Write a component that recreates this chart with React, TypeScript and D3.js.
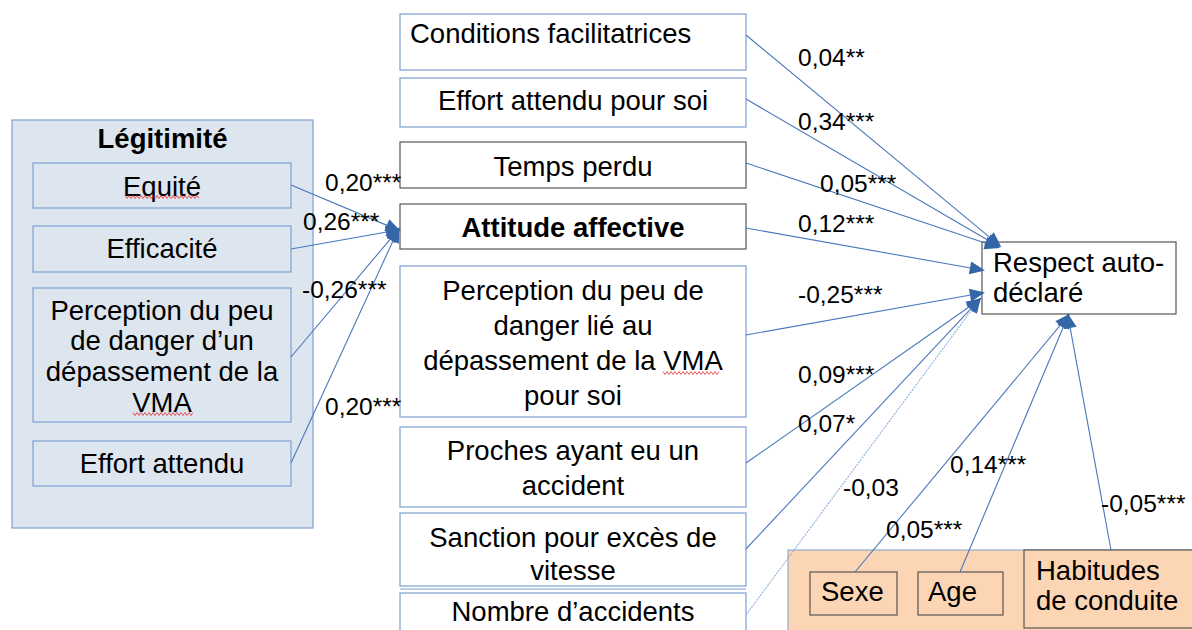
import React from "react";
import * as d3 from "d3";

// ---------- DATA ----------
const legitTitle = "Légitimité";
const legitItems = [
  ["Equité"],
  ["Efficacité"],
  ["Perception du peu", "de danger d’un", "dépassement de la", "VMA"],
  ["Effort attendu"],
];
const legitCoefs = ["0,20***", "0,26***", "-0,26***", "0,20***"];

const predictorItems = [
  ["Conditions facilitatrices"],
  ["Effort attendu pour soi"],
  ["Temps perdu"],
  ["Attitude affective"],
  ["Perception du peu de", "danger lié au", "dépassement de la VMA", "pour soi"],
  ["Proches ayant eu un", "accident"],
  ["Sanction pour excès de", "vitesse"],
  ["Nombre d’accidents"],
];
const predictorCoefs = ["0,04**", "0,34***", "0,05***", "0,12***", "-0,25***", "0,09***", "0,07*", "-0,03"];

const controlItems = [["Sexe"], ["Age"], ["Habitudes", "de conduite"]];
const controlCoefs = ["0,05***", "0,14***", "-0,05***"];

const outcomeLabel = ["Respect auto-", "déclaré"];

// ---------- LAYOUT ----------
const W = 1192, H = 630;
const BLUE_LINE = "#4a78bb";
const BOX_BLUE = "#7d9fd1";
const BOX_DARK = "#555";
const HEAD = "#3566a8";
const FONT = "'Liberation Sans', Arial, sans-serif";

const legitBox = { x: 12, y: 120, w: 301, h: 408 };
const legitInner = [
  { y: 163, h: 45, baselines: [196] },
  { y: 226, h: 46, baselines: [258] },
  { y: 288, h: 134, baselines: [320, 350, 381, 412] },
  { y: 441, h: 45, baselines: [473] },
];
const legitX = 33, legitW = 258;
const legitAnchorsY = [185, 249, 357, 463];
const legitTip = [398, 230];
const legitLabelPos = [[325, 191], [303, 230], [302, 298], [325, 415]];

const predX = 400, predW = 346;
const predBoxes = [
  { y: 14, h: 56, baselines: [43], align: "start", stroke: BOX_BLUE, bold: false },
  { y: 78, h: 49, baselines: [110], align: "middle", stroke: BOX_BLUE, bold: false },
  { y: 142, h: 46, baselines: [176], align: "middle", stroke: BOX_DARK, bold: false },
  { y: 204, h: 45, baselines: [237], align: "middle", stroke: BOX_DARK, bold: true },
  { y: 266, h: 151, baselines: [300, 335, 370, 405], align: "middle", stroke: BOX_BLUE, bold: false },
  { y: 427, h: 80, baselines: [460, 495], align: "middle", stroke: BOX_BLUE, bold: false },
  { y: 513, h: 73, baselines: [547, 580], align: "middle", stroke: BOX_BLUE, bold: false },
  { y: 593, h: 60, baselines: [621], align: "middle", stroke: BOX_BLUE, bold: false },
];
const predAnchorsY = [35, 99, 163, 228, 335, 463, 549, 615];
const predTips = [[999, 245], [998, 246], [997, 247], [982, 270], [982, 293], [979, 300], [979, 300], [979, 300]];
const predLabelPos = [[798, 66], [798, 130], [820, 192], [798, 232], [798, 303], [798, 383], [798, 432], [843, 496]];

const outBox = { x: 982, y: 242, w: 194, h: 72 };
const outText = { x: 993, baselines: [272, 302] };

const ctrlPanel = { x: 788, y: 550, w: 420, h: 100 };
const ctrlBoxes = [
  { x: 810, y: 572, w: 87, h: 43, tx: 821, baselines: [601] },
  { x: 918, y: 572, w: 85, h: 43, tx: 928, baselines: [601] },
  { x: 1024, y: 550, w: 190, h: 78, tx: 1036, baselines: [580, 610] },
];
const ctrlAnchors = [[855, 572], [960, 572], [1111, 550]];
const ctrlTip = [1068, 316];
const ctrlLabelPos = [[886, 538], [950, 473], [1101, 512]];

const spellMarks = [[125, 200, 197], [133, 193, 414], [663, 720, 373]];

const line = d3.line();

function wavy(x0: number, x1: number, y: number) {
  const pts: [number, number][] = [];
  for (let x = x0, i = 0; x <= x1; x += 2, i++) pts.push([x, y + (i % 2 ? 1.5 : -1.5)]);
  return line(pts) || "";
}

function shorten(a: number[], b: number[], d: number) {
  const dx = b[0] - a[0], dy = b[1] - a[1];
  const L = Math.hypot(dx, dy);
  return [b[0] - (dx / L) * d, b[1] - (dy / L) * d];
}

function Arrow({ from, to, dotted }: { from: number[]; to: number[]; dotted?: boolean }) {
  const end = shorten(from, to, 10);
  return (
    <path
      d={line([from as [number, number], end as [number, number]]) || ""}
      stroke={dotted ? "#8fb0dd" : BLUE_LINE}
      strokeWidth={1.1}
      strokeDasharray={dotted ? "2,1" : undefined}
      fill="none"
      markerEnd="url(#head)"
    />
  );
}

export default function App() {
  const fs = 27.5;
  const lab = 24.5;
  return (
    <div style={{ position: "fixed", left: 0, top: 0 }}>
      <svg width={W} height={H} style={{ display: "block", background: "#fff" }} fontFamily={FONT}>
        <defs>
          <marker id="head" viewBox="0 0 14 12" refX="2" refY="6" markerWidth="16" markerHeight="13" markerUnits="userSpaceOnUse" orient="auto">
            <path d="M0,0 L14,6 L0,12 Z" fill={HEAD} />
          </marker>
        </defs>

        {/* Légitimité panel */}
        <rect x={legitBox.x} y={legitBox.y} width={legitBox.w} height={legitBox.h} fill="#dde5ef" stroke={BOX_BLUE} strokeWidth={1.2} />
        <text x={legitBox.x + legitBox.w / 2} y={148} textAnchor="middle" fontWeight="bold" fontSize={fs}>{legitTitle}</text>
        {legitItems.map((lines, i) => (
          <g key={"l" + i}>
            <rect x={legitX} y={legitInner[i].y} width={legitW} height={legitInner[i].h} fill="#dde5ef" stroke={BOX_BLUE} strokeWidth={1.2} />
            {lines.map((t, j) => (
              <text key={j} x={legitX + legitW / 2} y={legitInner[i].baselines[j]} textAnchor="middle" fontSize={fs}>{t}</text>
            ))}
          </g>
        ))}

        {/* Orange control panel */}
        <rect x={ctrlPanel.x} y={ctrlPanel.y} width={ctrlPanel.w} height={ctrlPanel.h} fill="#fcd6b4" stroke={BOX_BLUE} strokeWidth={1} />
        {controlItems.map((lines, i) => (
          <g key={"c" + i}>
            <rect x={ctrlBoxes[i].x} y={ctrlBoxes[i].y} width={ctrlBoxes[i].w} height={ctrlBoxes[i].h} fill="#fcd6b4" stroke={BOX_DARK} strokeWidth={1.2} />
            {lines.map((t, j) => (
              <text key={j} x={ctrlBoxes[i].tx} y={ctrlBoxes[i].baselines[j]} fontSize={fs}>{t}</text>
            ))}
          </g>
        ))}

        {/* Predictor boxes */}
        {predictorItems.map((lines, i) => {
          const b = predBoxes[i];
          return (
            <g key={"p" + i}>
              <rect x={predX} y={b.y} width={predW} height={b.h} fill="#fff" stroke={b.stroke} strokeWidth={1.2} />
              {lines.map((t, j) => (
                <text key={j} x={b.align === "start" ? predX + 10 : predX + predW / 2} y={b.baselines[j]}
                  textAnchor={b.align} fontSize={fs} fontWeight={b.bold ? "bold" : "normal"}>{t}</text>
              ))}
            </g>
          );
        })}
        <line x1={predX} x2={predX + predW} y1={589} y2={589} stroke={BOX_BLUE} strokeWidth={1.2} />

        {/* Outcome */}
        <rect x={outBox.x} y={outBox.y} width={outBox.w} height={outBox.h} fill="#fff" stroke={BOX_DARK} strokeWidth={1.2} />
        {outcomeLabel.map((t, j) => (
          <text key={j} x={outText.x} y={outText.baselines[j]} fontSize={fs}>{t}</text>
        ))}

        {/* spell-check marks */}
        {spellMarks.map((m, i) => (
          <path key={"s" + i} d={wavy(m[0], m[1], m[2])} stroke="#e03030" strokeWidth={0.8} fill="none" />
        ))}

        {/* Arrows */}
        {legitAnchorsY.map((y, i) => (
          <Arrow key={"la" + i} from={[legitX + legitW, y]} to={legitTip} />
        ))}
        {predAnchorsY.map((y, i) => (
          <Arrow key={"pa" + i} from={[predX + predW, y]} to={predTips[i]} dotted={i === 7} />
        ))}
        {ctrlAnchors.map((a, i) => (
          <Arrow key={"ca" + i} from={a} to={ctrlTip} />
        ))}

        {/* Coefficients */}
        {legitCoefs.map((c, i) => (
          <text key={"lc" + i} x={legitLabelPos[i][0]} y={legitLabelPos[i][1]} fontSize={lab}>{c}</text>
        ))}
        {predictorCoefs.map((c, i) => (
          <text key={"pc" + i} x={predLabelPos[i][0]} y={predLabelPos[i][1]} fontSize={lab}>{c}</text>
        ))}
        {controlCoefs.map((c, i) => (
          <text key={"cc" + i} x={ctrlLabelPos[i][0]} y={ctrlLabelPos[i][1]} fontSize={lab}>{c}</text>
        ))}
      </svg>
    </div>
  );
}
